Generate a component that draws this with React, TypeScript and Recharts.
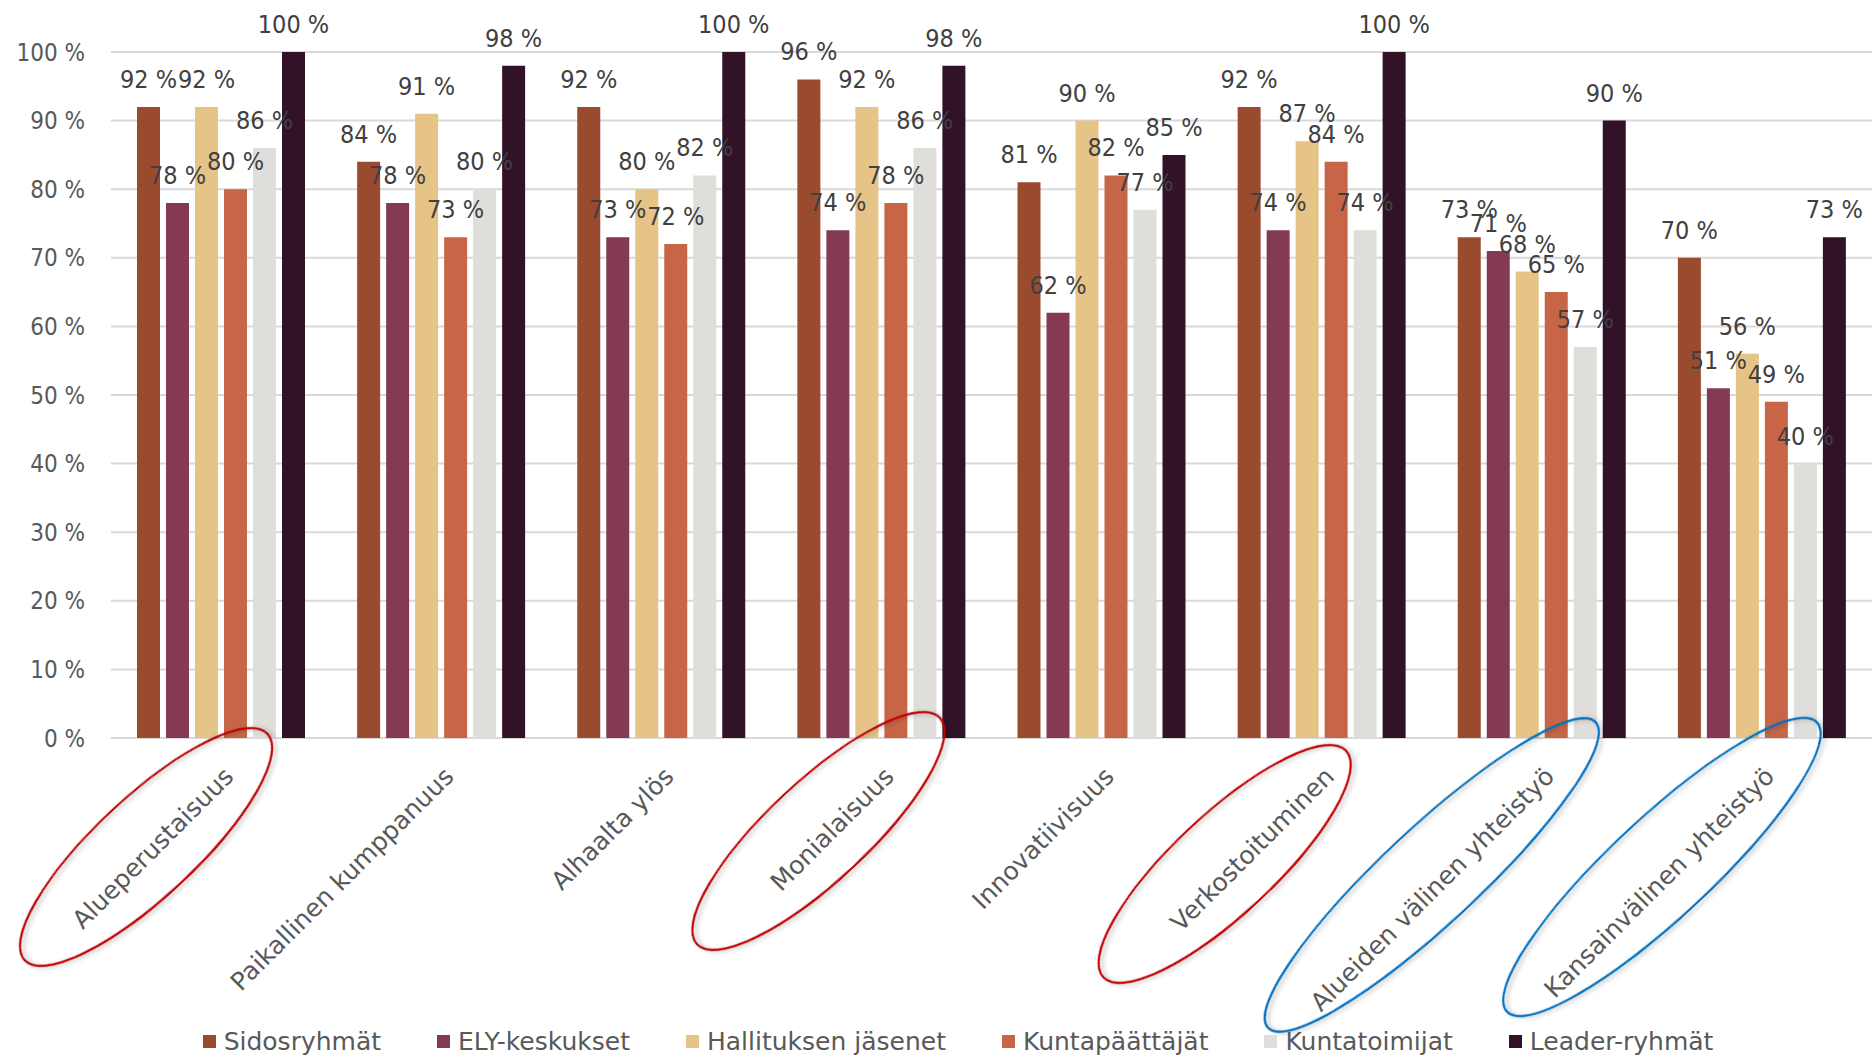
import React from "react";
import { BarChart, Bar, XAxis, YAxis, CartesianGrid, LabelList, Legend } from "recharts";

// categories on the x axis
const categories = [
  "Alueperustaisuus",
  "Paikallinen kumppanuus",
  "Alhaalta ylös",
  "Monialaisuus",
  "Innovatiivisuus",
  "Verkostoituminen",
  "Alueiden välinen yhteistyö",
  "Kansainvälinen yhteistyö",
];

// one array per respondent group, % per category
const sidosryhmat = [92, 84, 92, 96, 81, 92, 73, 70];
const elyKeskukset = [78, 78, 73, 74, 62, 74, 71, 51];
const hallitus = [92, 91, 80, 92, 90, 87, 68, 56];
const kuntapaattajat = [80, 73, 72, 78, 82, 84, 65, 49];
const kuntatoimijat = [86, 80, 82, 86, 77, 74, 57, 40];
const leaderRyhmat = [100, 98, 100, 98, 85, 100, 90, 73];

const yTicks = [0, 10, 20, 30, 40, 50, 60, 70, 80, 90, 100];

const SERIES = [
  { key: "s1", name: "Sidosryhmät", values: sidosryhmat, color: "#9A4A2E" },
  { key: "s2", name: "ELY-keskukset", values: elyKeskukset, color: "#843955" },
  { key: "s3", name: "Hallituksen jäsenet", values: hallitus, color: "#E6C387" },
  { key: "s4", name: "Kuntapäättäjät", values: kuntapaattajat, color: "#C76646" },
  { key: "s5", name: "Kuntatoimijat", values: kuntatoimijat, color: "#E0DEDB" },
  { key: "s6", name: "Leader-ryhmät", values: leaderRyhmat, color: "#321227" },
];

// hand-drawn ellipses around some category labels (offsets from tick point)
const HIGHLIGHTS: Record<string, { color: string; dx: number; dy: number; rx: number; ry: number }> = {
  "Alueperustaisuus": { color: "#C00000", dx: -75, dy: 109, rx: 166, ry: 50 },
  "Monialaisuus": { color: "#C00000", dx: -63, dy: 93, rx: 166, ry: 50 },
  "Verkostoituminen": { color: "#C00000", dx: -97, dy: 126, rx: 166, ry: 50 },
  "Alueiden välinen yhteistyö": { color: "#0070C0", dx: -110, dy: 137, rx: 224, ry: 48 },
  "Kansainvälinen yhteistyö": { color: "#0070C0", dx: -100, dy: 129, rx: 212, ry: 50 },
};

const NUM_FONT = "'DejaVu Sans Condensed', 'DejaVu Sans', sans-serif";
const TEXT_FONT = "'DejaVu Sans', sans-serif";

const data = categories.map((name, i) => {
  const row: any = { name };
  SERIES.forEach((s) => (row[s.key] = s.values[i]));
  return row;
});

function CategoryTick({ x, y, payload }: any) {
  const h = HIGHLIGHTS[payload.value];
  return (
    <g transform={`translate(${x},${y})`}>
      <text
        x={14}
        y={40}
        textAnchor="end"
        transform="rotate(-45 14 40)"
        fill="#595959"
        fontSize={25}
        fontFamily={TEXT_FONT}
      >
        {payload.value}
      </text>
      {h && (
        <ellipse
          cx={h.dx}
          cy={h.dy}
          rx={h.rx}
          ry={h.ry}
          transform={`rotate(-43 ${h.dx} ${h.dy})`}
          fill="none"
          stroke={h.color}
          strokeWidth={2.2}
          style={{ filter: "drop-shadow(2px 3px 2px rgba(0,0,0,0.25))" }}
        />
      )}
    </g>
  );
}

// value label above a bar, no wrapping
function ValueLabel(props: any) {
  const { x, y, width, value } = props;
  return (
    <text
      x={Number(x) + Number(width) / 2}
      y={Number(y) - 19}
      textAnchor="middle"
      fill="#404040"
      fontSize={25}
      fontFamily={NUM_FONT}
      style={{ fontStretch: "condensed" }}
    >
      {`${value} %`}
    </text>
  );
}

function LegendContent() {
  return (
    <div
      style={{
        display: "flex",
        justifyContent: "center",
        alignItems: "center",
        height: 34,
        paddingLeft: 44,
        fontFamily: TEXT_FONT,
        fontSize: 25,
        color: "#595959",
      }}
    >
      {SERIES.map((s, i) => (
        <div key={s.key} style={{ display: "flex", alignItems: "center", marginRight: i < SERIES.length - 1 ? 56 : 0 }}>
          <span style={{ width: 13, height: 13, background: s.color, marginRight: 8, display: "inline-block" }} />
          <span>{s.name}</span>
        </div>
      ))}
    </div>
  );
}

export default function App() {
  return (
    <div style={{ position: "absolute", left: 0, top: 0, width: 1872, height: 1058, background: "#fff", overflow: "hidden" }}>
      <BarChart
        width={1872}
        height={1058}
        data={data}
        margin={{ top: 52, right: 0, left: 0, bottom: 0 }}
        barCategoryGap={26}
        barGap={6}
      >
        <CartesianGrid vertical={false} stroke="#D9D9D9" strokeWidth={2} />
        <YAxis
          width={111}
          domain={[0, 100]}
          ticks={yTicks}
          interval={0}
          axisLine={false}
          tickLine={false}
          tickSize={0}
          tickMargin={26}
          tickFormatter={(v) => `${v} %`}
          tick={{ fill: "#595959", fontSize: 24, fontFamily: NUM_FONT, style: { fontStretch: "condensed" } }}
        />
        <XAxis
          dataKey="name"
          height={286}
          interval={0}
          axisLine={false}
          tickLine={false}
          tickSize={0}
          tickMargin={0}
          tick={<CategoryTick />}
        />
        <Legend verticalAlign="bottom" content={<LegendContent />} />
        {SERIES.map((s) => (
          <Bar key={s.key} dataKey={s.key} name={s.name} fill={s.color} isAnimationActive={false}>
            <LabelList dataKey={s.key} content={<ValueLabel />} />
          </Bar>
        ))}
      </BarChart>
    </div>
  );
}
